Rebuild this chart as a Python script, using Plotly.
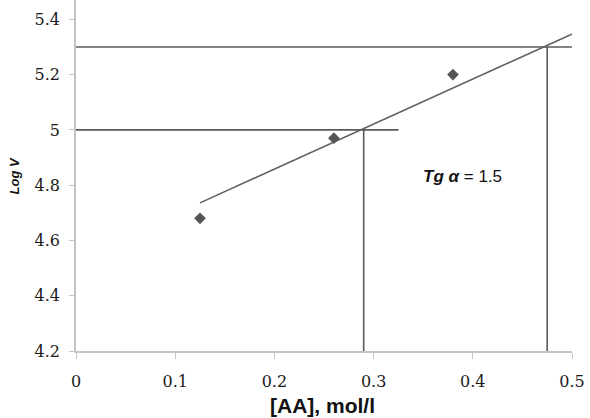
import plotly.graph_objects as go

# Data
conc = [0.125, 0.26, 0.38, 0.503]
log_v = [4.68, 4.97, 5.20, 5.30]
trend_x = [0.125, 0.505]
trend_y = [4.736, 5.355]
ref1_x = [0.0, 0.325]; ref1_y = 5.0; ref1_xv = 0.29
ref2_x = [0.0, 0.51]; ref2_y = 5.3; ref2_xv = 0.475
x_ticks = [0, 0.1, 0.2, 0.3, 0.4, 0.5]
x_tick_labels = ["0", "0.1", "0.2", "0.3", "0.4", "0.5"]
y_ticks = [4.2, 4.4, 4.6, 4.8, 5.0, 5.2, 5.4]
y_tick_labels = ["4.2", "4.4", "4.6", "4.8", "5", "5.2", "5.4"]

ref_col = "#5a5a5a"
serif = "DejaVu Serif"
fig = go.Figure()
for xs, ys in [(ref1_x, [ref1_y, ref1_y]), ([ref1_xv, ref1_xv], [4.2, ref1_y]),
               (ref2_x, [ref2_y, ref2_y]), ([ref2_xv, ref2_xv], [4.2, ref2_y])]:
    fig.add_trace(go.Scatter(x=xs, y=ys, mode="lines",
                             line=dict(color=ref_col, width=1.6), showlegend=False, cliponaxis=False))
fig.add_trace(go.Scatter(x=trend_x, y=trend_y, mode="lines",
                         line=dict(color="#606060", width=1.6), showlegend=False, cliponaxis=False))
fig.add_trace(go.Scatter(x=conc, y=log_v, mode="markers",
                         marker=dict(symbol="diamond", size=9, color="#555555"),
                         showlegend=False, cliponaxis=False))

fig.add_annotation(x=0.39, y=4.83, xref="x", yref="y", showarrow=False,
                   text="<b><i>Tg α</i></b> = 1.5", xanchor="center",
                   font=dict(family="Liberation Sans", size=17, color="#111"))
fig.add_annotation(x=0.496, y=-0.155, xref="paper", yref="paper", showarrow=False,
                   text="<b>[AA], mol/l</b>", xanchor="center", yanchor="middle",
                   font=dict(family="Liberation Sans", size=21, color="#111"))
fig.add_annotation(x=-0.123, y=0.5, xref="paper", yref="paper", showarrow=False,
                   text="<b><i>Log V</i></b>", textangle=-90, xanchor="center", yanchor="middle",
                   font=dict(family="Liberation Sans", size=13, color="#111"))
fig.update_layout(
    width=590, height=418,
    margin=dict(l=76, r=18, t=0, b=67, autoexpand=False),
    plot_bgcolor="white", paper_bgcolor="white",
    xaxis=dict(range=[0, 0.5], tickvals=x_ticks, ticktext=x_tick_labels, automargin=False,
               showgrid=False, zeroline=False, showline=True, linecolor="#c4c4c4", linewidth=1.5,
               ticks="outside", ticklen=6, tickcolor="#c4c4c4", ticklabelstandoff=9,
               tickfont=dict(family=serif, size=16, color="#1a1a1a")),
    yaxis=dict(range=[4.2, 5.47], tickvals=y_ticks, ticktext=y_tick_labels, automargin=False,
               showgrid=False, zeroline=False, showline=True, linecolor="#c4c4c4", linewidth=1.5,
               ticks="outside", ticklen=5, tickcolor="#c4c4c4", ticklabelstandoff=6,
               tickfont=dict(family=serif, size=16, color="#1a1a1a")),
)
fig.write_html("out.html", config={"displayModeBar": False},
               post_script="document.body.style.margin='0';")
